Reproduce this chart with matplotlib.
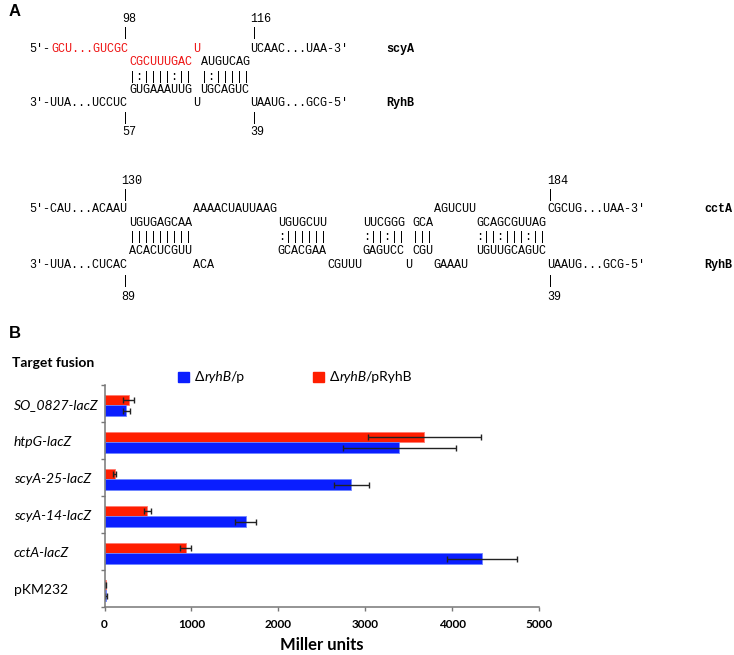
from matplotlib import pyplot as plt

W, H = 734, 655
fig = plt.figure(figsize=(W / 100, H / 100), dpi=100)

RED_TXT = "#EE1111"
MONO = "Liberation Mono"
SANS = ["Lato", "DejaVu Sans"]

# ---- panel A: RNA pairings (column, text, colour) per row ----
scya_rows = [
    (18, [(13, "98", "k"), (31, "116", "k")]),
    (32, [(13, "|", "k"), (31, "|", "k")]),
    (48, [(0, "5'-", "k"), (3, "GCU...GUCGC", RED_TXT), (23, "U", RED_TXT),
          (31, "UCAAC...UAA-3'", "k")]),
    (61, [(14, "CGCUUUGAC", RED_TXT), (24, "AUGUCAG", "k")]),
    (76, [(14, "|:||||:||", "k"), (24, "|:|||||", "k")]),
    (89, [(14, "GUGAAAUUG", "k"), (24, "UGCAGUC", "k")]),
    (102, [(0, "3'-UUA...UCCUC", "k"), (23, "U", "k"), (31, "UAAUG...GCG-5'", "k")]),
    (117, [(13, "|", "k"), (31, "|", "k")]),
    (131, [(13, "57", "k"), (31, "39", "k")]),
]
scya_names = [(48, "scyA"), (102, "RyhB")]

ccta_rows = [
    (180, [(13, "130", "k"), (73, "184", "k")]),
    (194, [(13, "|", "k"), (73, "|", "k")]),
    (208, [(0, "5'-CAU...ACAAU", "k"), (23, "AAAACUAUUAAG", "k"), (57, "AGUCUU", "k"),
           (73, "CGCUG...UAA-3'", "k")]),
    (222, [(14, "UGUGAGCAA", "k"), (35, "UGUGCUU", "k"), (47, "UUCGGG", "k"),
           (54, "GCA", "k"), (63, "GCAGCGUUAG", "k")]),
    (236, [(14, "|||||||||", "k"), (35, ":||||||", "k"), (47, ":||:||", "k"),
           (54, "|||", "k"), (63, ":||:|||:||", "k")]),
    (250, [(14, "ACACUCGUU", "k"), (35, "GCACGAA", "k"), (47, "GAGUCC", "k"),
           (54, "CGU", "k"), (63, "UGUUGCAGUC", "k")]),
    (264, [(0, "3'-UUA...CUCAC", "k"), (23, "ACA", "k"), (42, "CGUUU", "k"),
           (53, "U", "k"), (57, "GAAAU", "k"), (73, "UAAUG...GCG-5'", "k")]),
    (280, [(13, "|", "k"), (73, "|", "k")]),
    (296, [(13, "89", "k"), (73, "39", "k")]),
]
ccta_names = [(208, "cctA"), (264, "RyhB")]

# ---- panel B: beta-galactosidase activity ----
fusions = ["SO_0827-lacZ", "htpG-lacZ", "scyA-25-lacZ", "scyA-14-lacZ", "cctA-lacZ", "pKM232"]
italic = [True, True, True, True, True, False]
miller_p = [250, 3390, 2840, 1625, 4345, 18]
err_p = [38, 650, 203, 121, 402, 8]
miller_pryhb = [276, 3675, 115, 494, 935, 12]
err_pryhb = [65, 650, 20, 38, 63, 6]

x0 = 29.5


def ftxt(x, y, s, **kw):
    return fig.text(x / W, 1 - y / H, s, **kw)


def draw_block(rows, names, cw, name_x):
    for yc, segs in rows:
        for col, s, c in segs:
            ftxt(x0 + col * cw, yc + 4, s, family=MONO, fontsize=8.5, color=c, va="baseline")
    for yc, s in names:
        ftxt(name_x, yc + 4, s, family=MONO, fontsize=8.5, fontweight="bold", va="baseline")


draw_block(scya_rows, scya_names, 7.13, 386)
draw_block(ccta_rows, ccta_names, 7.09, 704)

ftxt(9, 11, "A", family=["Liberation Sans"], fontsize=12, fontweight="bold", va="center")
ftxt(9, 333, "B", family=["Liberation Sans"], fontsize=12, fontweight="bold", va="center")
ftxt(12, 363, "Target fusion", family=SANS, fontsize=10, fontweight="bold", va="center")

RED = "#FF1E00"
BLUE = "#0A1EFF"

ax = fig.add_axes([104.5 / W, 1 - 607 / H, (539.3 - 104.5) / W, (607 - 385) / H])
pos = list(range(len(fusions)))
bh = 0.29
err_kw = dict(ecolor="#222222", elinewidth=1, capsize=2, capthick=1)
ax.barh([p - bh / 2 + 0.05 for p in pos], miller_pryhb, height=bh, color=RED,
        edgecolor="#FF7A70", linewidth=0.6, xerr=err_pryhb, error_kw=err_kw)
ax.barh([p + bh / 2 + 0.05 for p in pos], miller_p, height=bh, color=BLUE,
        edgecolor="#6F86FF", linewidth=0.6, xerr=err_p, error_kw=err_kw)
ax.set_xlim(0, 5000)
ax.set_ylim(5.5, -0.5)
ax.set_yticks([p - 0.5 for p in pos] + [5.5])
ax.set_yticklabels([])
ax.set_xticks(range(0, 5001, 1000))
ax.set_xticklabels([str(v) for v in range(0, 5001, 1000)], family=SANS, fontweight="bold", fontsize=8.5)
for s in ["top", "right"]:
    ax.spines[s].set_visible(False)
for s in ["left", "bottom"]:
    ax.spines[s].set_color("#777777")
    ax.spines[s].set_linewidth(1.1)
ax.tick_params(axis="both", direction="out", length=3, color="#777777", width=1)
ax.tick_params(axis="x", pad=6)

for p, name, it in zip(pos, fusions, italic):
    ftxt(14, 385 + (p + 0.5) * 37 + 1.5, name, family=SANS, fontsize=10,
         fontstyle="italic" if it else "normal", va="center")

ftxt(322, 645, "Miller units", family=SANS, fontsize=12, fontweight="bold",
     ha="center", va="center")

# legend drawn by hand
rend = fig.canvas.get_renderer()


def pieces(x, y, parts):
    for s, style in parts:
        t = ftxt(x, y, s, family=SANS, fontsize=10, fontstyle=style, va="center")
        x += t.get_window_extent(renderer=rend).width + (-1.5 if style == "italic" else 0.5)


for sx, col, tail in [(178, BLUE, "/p"), (313, RED, "/pRyhB")]:
    fig.patches.append(plt.Rectangle((sx / W, 1 - 382 / H), 11 / W, 10 / H,
                                     transform=fig.transFigure, color=col))
    pieces(sx + 17, 377, [("\u0394", "normal"), ("ryhB", "italic"), (tail, "normal")])

fig.savefig("out.png", dpi=100)
